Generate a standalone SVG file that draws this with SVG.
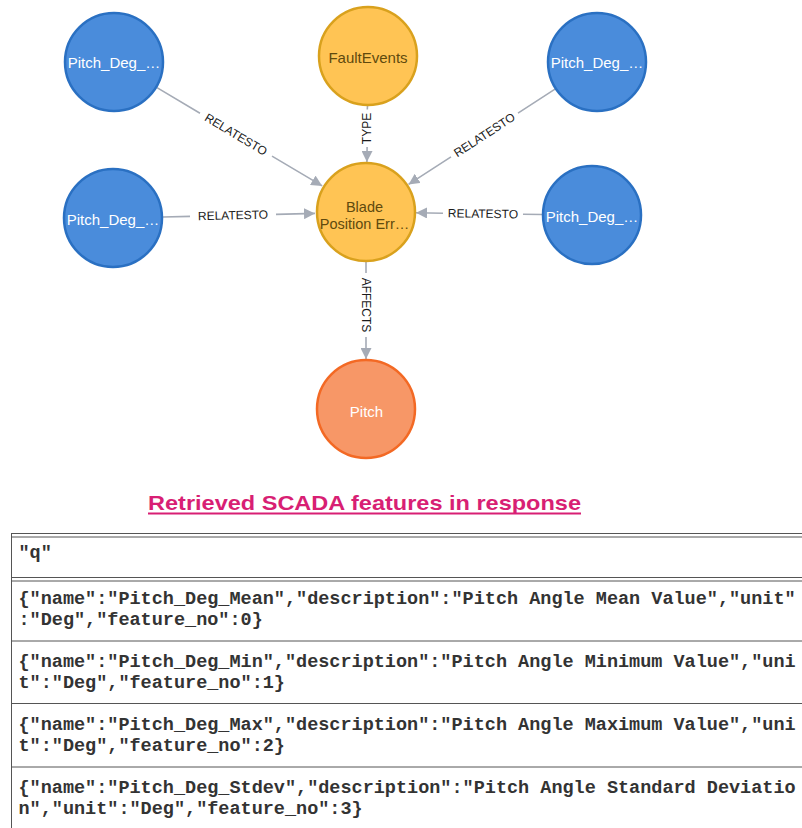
<svg xmlns="http://www.w3.org/2000/svg" width="802" height="828" viewBox="0 0 802 828">
<defs>
<style>
.blue circle{fill:#4A8CDB;stroke:#2A70C2;stroke-width:2.5}
.gold circle{fill:#FFC454;stroke:#D9A11D;stroke-width:2.5}
.red circle{fill:#F79767;stroke:#F36924;stroke-width:2.5}
.nl{font-family:"Liberation Sans",Arial,sans-serif;font-size:15px;text-anchor:middle}
.blue text,.red text{fill:#FFFFFF}
.gold text{fill:#604A0E}
.edge{fill:none;stroke:#A5ABB6;stroke-width:1.6}
.el{font-family:"Liberation Sans",Arial,sans-serif;font-size:12px;fill:#1a1a1a;text-anchor:middle;dominant-baseline:central}
.title{font-family:"Liberation Sans",Arial,sans-serif;font-size:21px;font-weight:bold;fill:#D81F74;text-anchor:middle}
.mono{font-family:"Liberation Mono","Courier New",monospace;font-size:18.5px;font-weight:bold;fill:#333333}
.tl{stroke:#555555;stroke-width:1;fill:none}
</style>
<marker id="arr" markerUnits="userSpaceOnUse" markerWidth="11" markerHeight="11" refX="10" refY="5" orient="auto" viewBox="0 0 10 10">
<path d="M0,0 L10,5 L0,10 z" fill="#A5ABB6"/>
</marker>
</defs>
<rect width="802" height="828" fill="#FFFFFF"/>

<g id="connectors">
<path class="edge" d="M157,87.6 L200,113.2 M272,156.1 L322.2,185.9" marker-end="url(#arr)"/>
<text class="el" transform="translate(236,134.6) rotate(30.8)">RELATESTO</text>
<path class="edge" d="M555,89.2 L518,113.2 M451,156.8 L408.5,184.4" marker-end="url(#arr)"/>
<text class="el" transform="translate(484.5,135) rotate(-33)">RELATESTO</text>
<path class="edge" d="M367.5,106 L367.3,109.5 M367.1,147 L366.9,162" marker-end="url(#arr)"/>
<text class="el" transform="translate(367.2,128.5) rotate(-90)">TYPE</text>
<path class="edge" d="M163,217 L190,216.4 M276,214.4 L315,213.4" marker-end="url(#arr)"/>
<text class="el" transform="translate(233,215.4) rotate(-1.3)">RELATESTO</text>
<path class="edge" d="M542,214.5 L523,214.3 M443,213.2 L416,212.8" marker-end="url(#arr)"/>
<text class="el" transform="translate(483,213.8) rotate(0.8)">RELATESTO</text>
<path class="edge" d="M366,262 L366,273 M366,337 L366,359" marker-end="url(#arr)"/>
<text class="el" transform="translate(366,305) rotate(90)">AFFECTS</text>
</g>

<g id="node-pitch-deg-1" class="blue"><circle cx="114" cy="62" r="49"/><text class="nl" x="114" y="68">Pitch_Deg_…</text></g>
<g id="node-faultevents" class="gold"><circle cx="368" cy="56" r="49"/><text class="nl" x="368" y="63">FaultEvents</text></g>
<g id="node-pitch-deg-2" class="blue"><circle cx="597" cy="62" r="49"/><text class="nl" x="597" y="68">Pitch_Deg_…</text></g>
<g id="node-pitch-deg-3" class="blue"><circle cx="113" cy="218" r="49"/><text class="nl" x="113" y="225">Pitch_Deg_…</text></g>
<g id="node-blade" class="gold"><circle cx="366" cy="212" r="49"/><text class="nl" x="364.5" y="212" style="font-size:14.5px">Blade</text><text class="nl" x="364.5" y="229" style="font-size:14.5px">Position Err…</text></g>
<g id="node-pitch-deg-4" class="blue"><circle cx="592" cy="215" r="49"/><text class="nl" x="592" y="222">Pitch_Deg_…</text></g>
<g id="node-pitch" class="red"><circle cx="366" cy="409" r="49"/><text class="nl" x="366.5" y="417">Pitch</text></g>

<g id="title">
<text class="title" x="364.5" y="510" textLength="433" lengthAdjust="spacingAndGlyphs">Retrieved SCADA features in response</text>
<line x1="148" y1="513.5" x2="581" y2="513.5" stroke="#D81F74" stroke-width="2"/>
</g>

<g id="table">
<path class="tl" d="M11.5,533 V828"/>
<path class="tl" d="M11,533.5 H802 M11,537 H802"/>
<path class="tl" d="M11,577.5 H802 M11,581 H802"/>
<path class="tl" d="M11,641 H802"/>
<path class="tl" d="M11,703.5 H802"/>
<path class="tl" d="M11,767 H802"/>
<text class="mono" x="18.5" y="558">"q"</text>
<text class="mono" x="18.5" y="604">{"name":"Pitch_Deg_Mean","description":"Pitch Angle Mean Value","unit"</text>
<text class="mono" x="18.5" y="625">:"Deg","feature_no":0}</text>
<text class="mono" x="18.5" y="667">{"name":"Pitch_Deg_Min","description":"Pitch Angle Minimum Value","uni</text>
<text class="mono" x="18.5" y="688">t":"Deg","feature_no":1}</text>
<text class="mono" x="18.5" y="730">{"name":"Pitch_Deg_Max","description":"Pitch Angle Maximum Value","uni</text>
<text class="mono" x="18.5" y="751">t":"Deg","feature_no":2}</text>
<text class="mono" x="18.5" y="793">{"name":"Pitch_Deg_Stdev","description":"Pitch Angle Standard Deviatio</text>
<text class="mono" x="18.5" y="814">n","unit":"Deg","feature_no":3}</text>
</g>
</svg>
